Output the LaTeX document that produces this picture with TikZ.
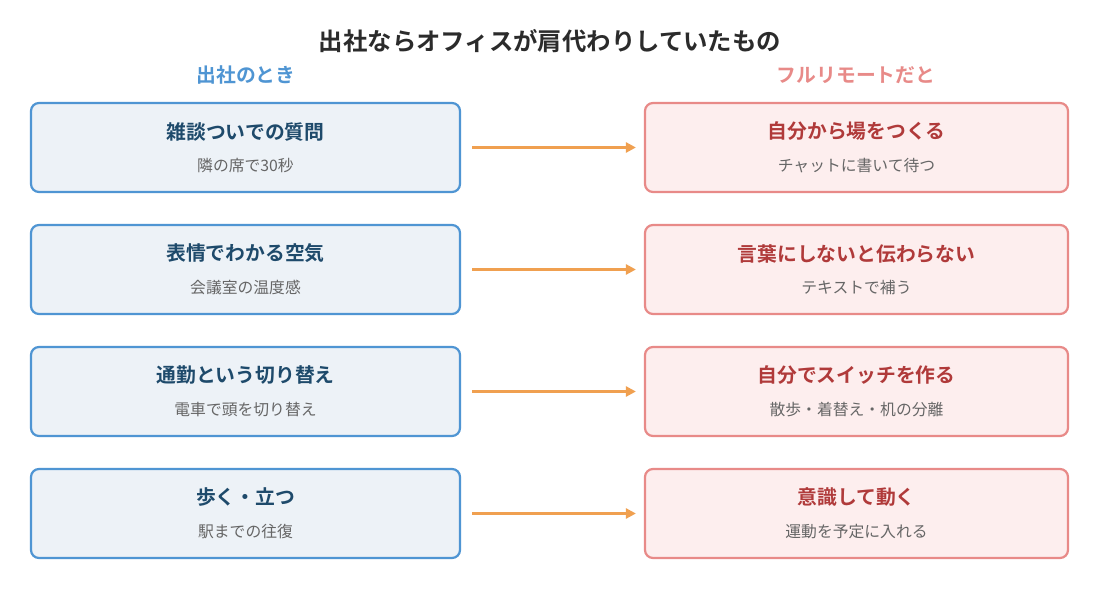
\documentclass[tikz,border=0pt]{standalone}
\usepackage{fontspec}
\usetikzlibrary{arrows.meta}
\setmainfont{Noto Sans CJK JP}[BoldFont={Noto Sans CJK JP Bold}]
\definecolor{lstroke}{HTML}{4F95D3}
\definecolor{lfill}{HTML}{EDF2F7}
\definecolor{ltext}{HTML}{1E4A6B}
\definecolor{rstroke}{HTML}{E88A88}
\definecolor{rfill}{HTML}{FDEEEE}
\definecolor{rtext}{HTML}{B03A3A}
\definecolor{subtext}{HTML}{666666}
\definecolor{arrowc}{HTML}{F0A050}
\definecolor{titlec}{HTML}{2B2B2B}
\begin{document}
\begin{tikzpicture}[x=1pt,y=-1pt,
  lbox/.style={draw=lstroke,fill=lfill,line width=2.2pt,rounded corners=8pt,minimum width=429pt,minimum height=89pt,inner sep=0pt},
  rbox/.style={draw=rstroke,fill=rfill,line width=2.2pt,rounded corners=8pt,minimum width=423pt,minimum height=89pt,inner sep=0pt},
  ltitle/.style={font=\fontsize{19.8}{23}\selectfont\bfseries,text=ltext,inner sep=0pt},
  rtitle/.style={font=\fontsize{19.8}{23}\selectfont\bfseries,text=rtext,inner sep=0pt},
  sub/.style={font=\fontsize{15.8}{19}\selectfont,text=subtext,inner sep=0pt},
  conn/.style={draw=arrowc,line width=2.6pt,-{Stealth[length=10pt,width=10pt,inset=0pt]}},
]
\useasboundingbox[fill=white] (0,0) rectangle (1100,594);
\node[font=\fontsize{24.4}{28}\selectfont\bfseries,text=titlec] (title) at (550,41) {出社ならオフィスが肩代わりしていたもの};
\node[font=\fontsize{19.8}{23}\selectfont\bfseries,text=lstroke] (hl) at (246,75) {出社のとき};
\node[font=\fontsize{19.8}{23}\selectfont\bfseries,text=rstroke] (hr) at (856,75) {フルリモートだと};
\foreach \i/\y/\lt/\ls/\rt/\rs in {
  1/147.5/雑談ついでの質問/隣の席で30秒/自分から場をつくる/チャットに書いて待つ,
  2/269.5/表情でわかる空気/会議室の温度感/言葉にしないと伝わらない/テキストで補う,
  3/391.5/通勤という切り替え/電車で頭を切り替え/自分でスイッチを作る/散歩・着替え・机の分離,
  4/513.5/歩く・立つ/駅までの往復/意識して動く/運動を予定に入れる}{
  \node[lbox] (L\i) at (245.5,\y) {};
  \node[ltitle] (LT\i) at (245.5,\y-16) {\lt};
  \node[sub] (LS\i) at (245.5,\y+18.5) {\ls};
  \node[rbox] (R\i) at (856.5,\y) {};
  \node[rtitle] (RT\i) at (856.5,\y-16) {\rt};
  \node[sub] (RS\i) at (856.5,\y+18.5) {\rs};
  \draw[conn] ([xshift=11pt]L\i.east) -- ([xshift=-8pt]R\i.west);
}
\end{tikzpicture}
\end{document}
